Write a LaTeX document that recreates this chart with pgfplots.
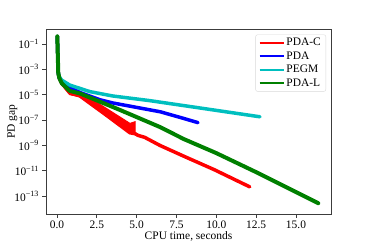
\documentclass[border=0pt]{standalone}
\usepackage{fontspec}
\setmainfont{Liberation Serif}
\usepackage{pgfplots}
\pgfplotsset{compat=1.18}
\definecolor{mplcyan}{RGB}{0,191,191}
\definecolor{mplgreen}{RGB}{0,128,0}
\definecolor{spine}{RGB}{60,60,60}
\begin{document}
\begin{tikzpicture}
\path[use as bounding box] (0,0) rectangle (368bp,245bp);
\begin{axis}[
  at={(46bp,31bp)}, anchor=south west,
  scale only axis, width=285bp, height=185bp,
  ymode=log,
  xmin=-0.69, xmax=17.2, ymin=4e-15, ymax=1.5,
  xtick={0,2.5,5,7.5,10,12.5,15},
  xticklabels={0.0,2.5,5.0,7.5,10.0,12.5,15.0},
  ytick={1e-13,1e-11,1e-9,1e-7,1e-5,1e-3,1e-1},
  yticklabels={10\textsuperscript{−13},10\textsuperscript{−11},10\textsuperscript{−9},10\textsuperscript{−7},10\textsuperscript{−5},10\textsuperscript{−3},10\textsuperscript{−1}},
  yminorticks=false, xminorticks=false,
  tick align=outside, tick pos=left,
  major tick length=3.5bp,
  every tick/.style={spine, line width=0.8bp},
  axis line style={spine, line width=0.8bp},
  ticklabel style={font=\fontsize{11.5}{13}\selectfont},
  xlabel={CPU time, seconds}, ylabel={PD gap},
  label style={font=\fontsize{11.5}{13}\selectfont},
  xlabel style={at={(axis description cs:0.5,-0.122)}, anchor=center},
  ylabel style={at={(axis description cs:-0.118,0.5)}, anchor=center},
  legend style={at={(1,1)}, anchor=north east, xshift=-5bp, yshift=-5.5bp,
    draw=black!15, rounded corners=2bp, fill=white,
    font=\fontsize{11.5}{13}\selectfont, row sep=0.5bp,
    inner xsep=3bp, inner ysep=1.5bp},
  legend cell align=left,
  legend image code/.code={\draw[#1] (0bp,0bp) -- (24bp,0bp);},
]
% PDA-C oscillation band
\addplot[red, fill=red, line width=1bp, forget plot] coordinates {
(0.3,1.26e-4) (0.8,3.16e-5) (1.44,1.74e-5) (3.0,1e-6) (4.58,5.5e-8) (4.9,7.41e-8)
(4.9,8.91e-9) (4.58,8.91e-9) (3.0,2.5e-7) (1.44,6.92e-6) (0.8,1e-5) (0.3,6e-5)} --cycle;
% PDA-C
\addplot[red, line width=3.5bp, line join=round, line cap=round, forget plot] coordinates {
(0.02,0.398) (0.08,5e-4) (0.15,2e-4) (0.3,8e-5) (0.8,1.4e-5) (1.44,8e-6) (3.0,3e-7)
(4.58,1e-8) (4.9,8.5e-9) (5.08,6.31e-9) (5.3,5.2e-9) (5.5,4.4e-9) (6.47,1e-9)
(7.97,1.41e-10) (9.86,1.26e-11) (12.1,5.5e-13)};
% PDA
\addplot[blue, line width=3.5bp, line join=round, line cap=round, forget plot] coordinates {
(0.02,0.398) (0.08,5e-4) (0.15,2e-4) (0.3,1e-4) (0.8,3.5e-5) (1.5,1.41e-5) (2.7,3.98e-6)
(3.5,2.24e-6) (5.0,1e-6) (6.5,4.47e-7) (7.9,1.41e-7) (8.85,6.31e-8)};
% PEGM
\addplot[mplcyan, line width=3.5bp, line join=round, line cap=round, forget plot] coordinates {
(0.02,0.398) (0.08,5e-4) (0.15,2.5e-4) (0.3,1.4e-4) (0.8,5.75e-5) (2.07,1.74e-5)
(3.5,7.94e-6) (5.84,3.39e-6) (9.0,8.91e-7) (12.74,1.82e-7)};
% PDA-L
\addplot[mplgreen, line width=4bp, line join=round, line cap=round, forget plot] coordinates {
(0.02,0.398) (0.08,5e-4) (0.15,2e-4) (0.3,7.94e-5) (0.8,2.0e-5) (1.44,1.26e-5)
(3.95,6.31e-7) (6.47,2.82e-8) (7.97,3.16e-9) (10,2.51e-10) (12.5,7.94e-12) (16.4,2.82e-14)};
\addlegendimage{draw=red, line width=1.8bp}\addlegendentry{PDA-C}
\addlegendimage{draw=blue, line width=1.8bp}\addlegendentry{PDA}
\addlegendimage{draw=mplcyan, line width=1.8bp}\addlegendentry{PEGM}
\addlegendimage{draw=mplgreen, line width=1.8bp}\addlegendentry{PDA-L}
\end{axis}
\end{tikzpicture}
\end{document}
